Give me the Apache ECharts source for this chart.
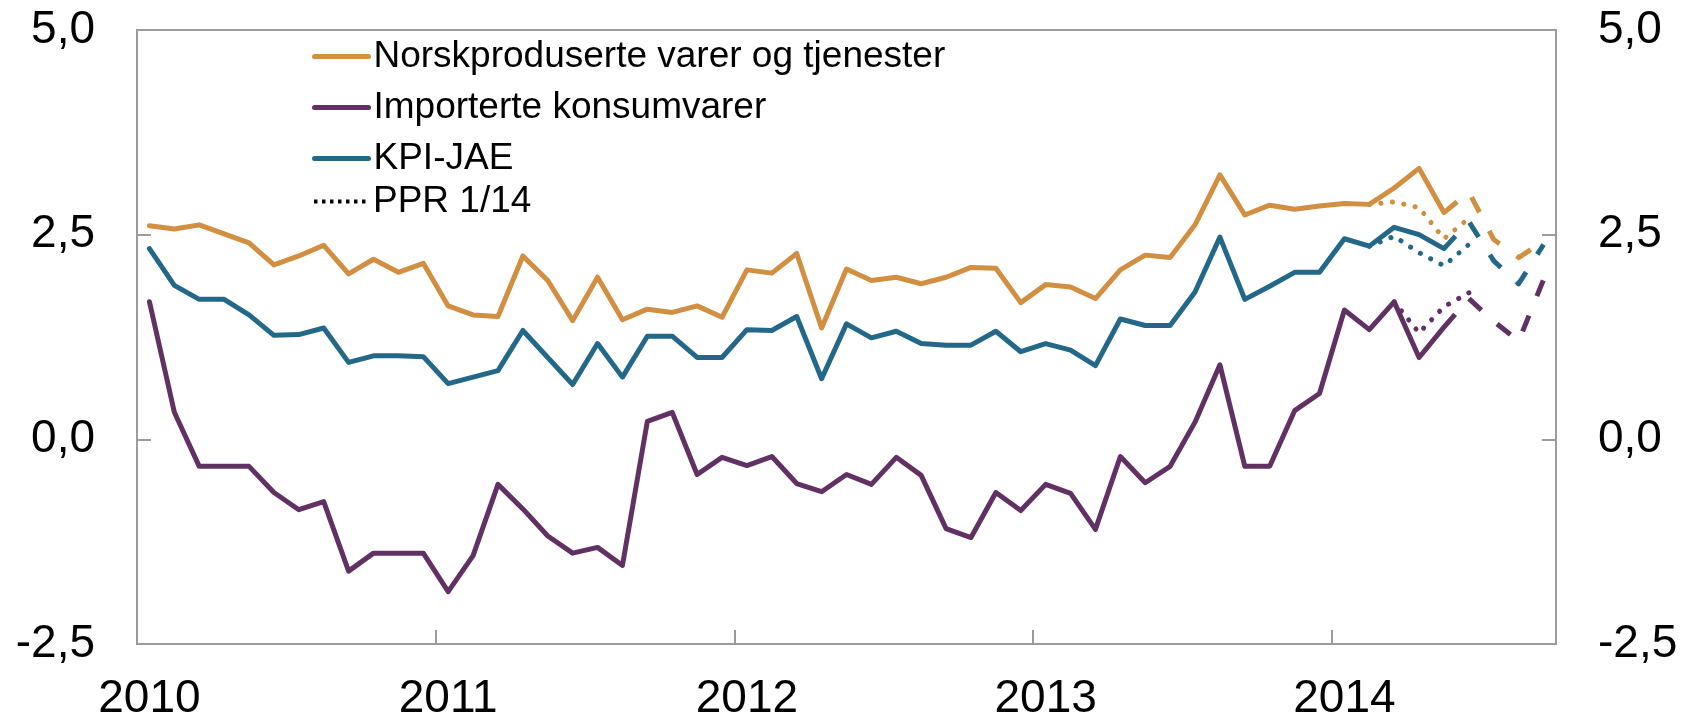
<!DOCTYPE html>
<html>
<head>
<meta charset="utf-8">
<script src="https://cdn.jsdelivr.net/npm/echarts@6/dist/echarts.min.js"></script>
<style>
html,body{margin:0;padding:0;background:#fff;}
#chart{width:1683px;height:722px;}
</style>
</head>
<body>
<div id="chart"></div>
<script>
// ---- Data (monthly, Jan 2010 - Sep 2014) ----
const startYear = 2010;
const monthCount = 57;

const seriesNames = ['Norskproduserte varer og tjenester', 'Importerte konsumvarer', 'KPI-JAE'];
const pprLabel = 'PPR 1/14';

// Actual figures Jan 2010 - May 2014
const norskActual = [
  2.61, 2.57, 2.62, 2.51, 2.40, 2.13, 2.24, 2.37, 2.02, 2.20, 2.04, 2.15,
  1.63, 1.52, 1.50, 2.24, 1.94, 1.45, 1.98, 1.46, 1.59, 1.55, 1.63, 1.49,
  2.07, 2.03, 2.27, 1.36, 2.08, 1.94, 1.98, 1.90, 1.98, 2.10, 2.09, 1.67,
  1.89, 1.86, 1.72, 2.07, 2.25, 2.22, 2.62, 3.23, 2.74, 2.86, 2.81, 2.85,
  2.88, 2.87, 3.07, 3.31, 2.77
];
const importActual = [
  1.68, 0.33, -0.33, -0.33, -0.33, -0.65, -0.86, -0.76, -1.61, -1.39, -1.39, -1.39,
  -1.86, -1.42, -0.55, -0.85, -1.18, -1.39, -1.32, -1.54, 0.22, 0.33, -0.43, -0.22,
  -0.32, -0.21, -0.54, -0.64, -0.43, -0.55, -0.22, -0.44, -1.09, -1.20, -0.65, -0.87,
  -0.55, -0.66, -1.10, -0.21, -0.53, -0.33, 0.21, 0.91, -0.33, -0.33, 0.35, 0.56,
  1.58, 1.34, 1.68, 1.00, 1.37
];
const kpiActual = [
  2.33, 1.88, 1.71, 1.71, 1.52, 1.27, 1.28, 1.36, 0.94, 1.02, 1.02, 1.01,
  0.68, 0.76, 0.84, 1.33, 1.00, 0.67, 1.17, 0.76, 1.26, 1.26, 1.00, 1.00,
  1.34, 1.33, 1.50, 0.74, 1.41, 1.24, 1.32, 1.17, 1.15, 1.15, 1.32, 1.07,
  1.17, 1.09, 0.90, 1.47, 1.39, 1.39, 1.80, 2.47, 1.71, 1.87, 2.04, 2.04,
  2.45, 2.36, 2.59, 2.50, 2.33
];

// Projections May 2014 - Sep 2014 (dashed)
const projStart = 52;
const norskProj  = [2.77, 3.02, 2.44, 2.22, 2.42];
const importProj = [1.37, 1.72, 1.44, 1.20, 1.95];
const kpiProj    = [2.33, 2.66, 2.18, 1.90, 2.38];

// PPR 1/14 paths (dotted)
const norskPprStart = 49;  const norskPpr  = [2.87, 2.90, 2.83, 2.45, 2.70];
const importPprStart = 50; const importPpr = [1.68, 1.30, 1.62, 1.79];
const kpiPprStart = 49;    const kpiPpr    = [2.36, 2.48, 2.28, 2.12, 2.38];

const yTicks = [-2.5, 0, 2.5, 5];

// ---- Build ----
const categories = [];
for (let i = 0; i < monthCount; i++) {
  const y = startYear + Math.floor(i / 12);
  const m = (i % 12) + 1;
  categories.push(y + '-' + (m < 10 ? '0' + m : m));
}
function place(arr, start) {
  const out = new Array(monthCount).fill(null);
  arr.forEach((v, k) => { out[start + k] = v; });
  return out;
}

const colors = ['#D28E41', '#623164', '#236889'];
const FONT = "'Liberation Sans', Arial, sans-serif";
const solidW = 5;
const dashType = [17, 21];
const dotType = [0.1, 11.5];

function lineSeries(name, data, color, type, width, cap) {
  return {
    name: name, type: 'line', data: data, symbol: 'none', showSymbol: false,
    connectNulls: false, animation: false, silent: true,
    lineStyle: { color: color, width: width, type: type, cap: cap || 'round', join: 'round' },
    itemStyle: { color: color },
    emphasis: { disabled: true }
  };
}

const series = [
  lineSeries('ppr-norsk', place(norskPpr, norskPprStart), colors[0], dotType, 5, 'round'),
  lineSeries('ppr-kpi', place(kpiPpr, kpiPprStart), colors[2], dotType, 5, 'round'),
  lineSeries('ppr-import', place(importPpr, importPprStart), colors[1], dotType, 5, 'round'),
  lineSeries('proj-norsk', place(norskProj, projStart), colors[0], dashType, solidW, 'butt'),
  lineSeries('proj-import', place(importProj, projStart), colors[1], dashType, solidW, 'butt'),
  lineSeries('proj-kpi', place(kpiProj, projStart), colors[2], dashType, solidW, 'butt'),
  lineSeries(seriesNames[0], place(norskActual, 0), colors[0], 'solid', solidW),
  lineSeries(seriesNames[1], place(importActual, 0), colors[1], 'solid', solidW),
  lineSeries(seriesNames[2], place(kpiActual, 0), colors[2], 'solid', solidW),
  lineSeries(pprLabel, [], '#000000', [3.5, 4.5], 4, 'butt')
];

const axisGray = '#9c9c9c';
const yLabelFmt = v => v.toFixed(1).replace('.', ',');
const isJan = (idx, val) => String(val).slice(5) === '01';

const legendText = { fontFamily: FONT, fontSize: 37, color: '#000' };

const option = {
  animation: false,
  backgroundColor: '#ffffff',
  grid: { left: 137, right: 127, top: 30, bottom: 78, show: true, borderColor: axisGray, borderWidth: 2, backgroundColor: 'transparent' },
  legend: [
    {
      data: seriesNames, orient: 'vertical', left: 312, top: 38, padding: 0,
      itemWidth: 54, itemHeight: 5, itemGap: 14, textStyle: legendText,
      selectedMode: false, inactiveColor: '#000',
      itemStyle: { opacity: 0 }, lineStyle: { width: 5, cap: 'round' }
    },
    {
      data: [pprLabel], orient: 'vertical', left: 312, top: 183, padding: 0,
      itemWidth: 54, itemHeight: 5, itemGap: 14, textStyle: legendText,
      selectedMode: false,
      itemStyle: { opacity: 0 }, lineStyle: { width: 4 }
    }
  ],
  xAxis: {
    type: 'category', data: categories, boundaryGap: true,
    axisLine: { show: true, onZero: false, lineStyle: { color: axisGray, width: 2 } },
    axisTick: { show: true, inside: true, length: 14, interval: isJan, alignWithLabel: false, lineStyle: { color: axisGray, width: 2 } },
    axisLabel: { interval: isJan, formatter: v => v.slice(0, 4), fontFamily: FONT, fontSize: 46, color: '#000', margin: 32 },
    splitLine: { show: false }
  },
  yAxis: [
    {
      type: 'value', min: yTicks[0], max: yTicks[yTicks.length - 1], interval: 2.5, position: 'left',
      axisLine: { show: true, lineStyle: { color: axisGray, width: 2 } },
      axisTick: { show: true, inside: true, length: 14, lineStyle: { color: axisGray, width: 2 } },
      axisLabel: { formatter: yLabelFmt, fontFamily: FONT, fontSize: 46, color: '#000', margin: 42 },
      splitLine: { show: false }
    },
    {
      type: 'value', min: yTicks[0], max: yTicks[yTicks.length - 1], interval: 2.5, position: 'right',
      axisLine: { show: true, lineStyle: { color: axisGray, width: 2 } },
      axisTick: { show: true, inside: true, length: 14, lineStyle: { color: axisGray, width: 2 } },
      axisLabel: { formatter: yLabelFmt, fontFamily: FONT, fontSize: 46, color: '#000', margin: 42 },
      splitLine: { show: false }
    }
  ],
  series: series
};

const chart = echarts.init(document.getElementById('chart'), null, { renderer: 'canvas' });
chart.setOption(option);
</script>
</body>
</html>
